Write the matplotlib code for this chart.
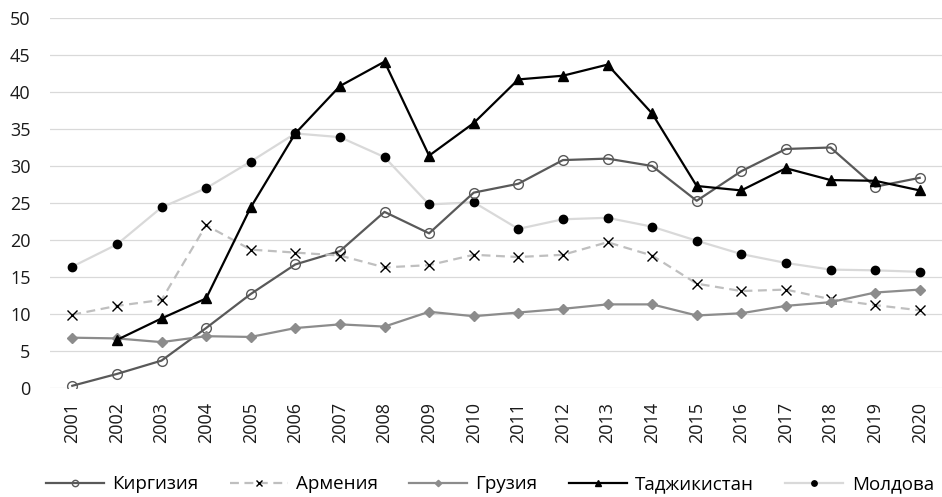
import matplotlib
matplotlib.use('Agg')
import matplotlib.pyplot as plt
import numpy as np

plt.rcParams['font.family'] = ['Open Sans', 'DejaVu Sans']

years = list(range(2001, 2021))

kirgizia = [0.3, 1.9, 3.7, 8.1, 12.7, 16.7, 18.5, 23.8, 20.9, 26.4,
            27.6, 30.8, 31.0, 30.0, 25.3, 29.3, 32.3, 32.5, 27.2, 28.4]
armenia = [9.9, 11.1, 11.9, 22.0, 18.7, 18.3, 17.9, 16.3, 16.6, 18.0,
           17.7, 18.0, 19.7, 17.9, 14.1, 13.1, 13.3, 12.0, 11.2, 10.5]
georgia = [6.8, 6.7, 6.2, 7.0, 6.9, 8.1, 8.6, 8.3, 10.3, 9.7,
           10.2, 10.7, 11.3, 11.3, 9.8, 10.1, 11.1, 11.6, 12.9, 13.3]
# no value for 2001
tajikistan = [np.nan, 6.5, 9.4, 12.1, 24.4, 34.4, 40.8, 44.1, 31.4, 35.8,
              41.7, 42.2, 43.7, 37.1, 27.3, 26.7, 29.7, 28.1, 28.0, 26.7]
moldova = [16.4, 19.4, 24.4, 27.0, 30.6, 34.4, 33.9, 31.2, 24.8, 25.1,
           21.5, 22.8, 23.0, 21.8, 19.9, 18.1, 16.9, 16.0, 15.9, 15.7]

labels = ['Киргизия', 'Армения', 'Грузия', 'Таджикистан', 'Молдова']

fig = plt.figure(figsize=(9.42, 4.97), dpi=100)
ax = fig.add_axes([50/942, 1 - 388/497, 892/942, 370/497])

x = np.arange(len(years))

ax.plot(x, kirgizia, color='#595959', lw=1.6, marker='o', ms=7,
        mfc='none', mec='#595959', mew=1.0, label=labels[0], zorder=3)
ax.plot(x, armenia, color='#bfbfbf', lw=1.6, ls=(0, (4, 2.5)), marker='x',
        ms=7, mec='black', mew=1.0, label=labels[1], zorder=3)
ax.plot(x, georgia, color='#8c8c8c', lw=1.6, marker='D', ms=5,
        mfc='#8c8c8c', mec='#8c8c8c', label=labels[2], zorder=3)
ax.plot(x, tajikistan, color='black', lw=1.6, marker='^', ms=7.5,
        label=labels[3], zorder=4)
ax.plot(x, moldova, color='#d9d9d9', lw=1.6, marker='o', ms=6,
        mfc='black', mec='black', label=labels[4], zorder=2)

# axes styling
ax.set_xlim(-0.5, len(years) - 0.5)
ax.set_ylim(0, 50)
ax.set_yticks(range(0, 51, 5))
ax.set_xticks(x)
ax.set_xticklabels([str(y) for y in years], rotation=90)
ax.grid(axis='y', color='#d9d9d9', lw=0.9)
ax.set_axisbelow(True)
for s in ax.spines.values():
    s.set_visible(False)
ax.tick_params(axis='both', length=0, labelsize=13, colors='#1a1a1a')
ax.tick_params(axis='y', pad=14)
ax.tick_params(axis='x', pad=10)

leg = fig.legend(loc='center', bbox_to_anchor=(0.52, 0.026), ncol=5,
                 frameon=False, fontsize=13.5, handlelength=3.1,
                 handletextpad=0.45, columnspacing=1.65, markerscale=0.65)
for t in leg.get_texts():
    t.set_color('black')

plt.savefig('out.png', dpi=100)
